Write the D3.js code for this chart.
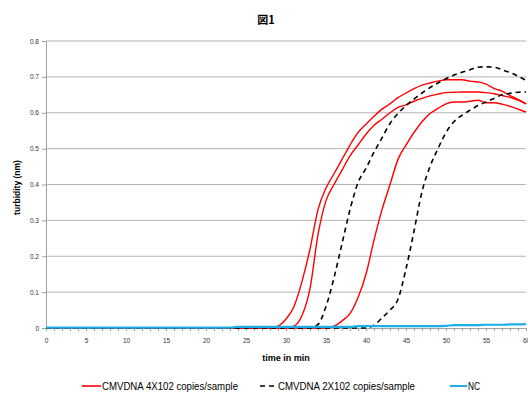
<!DOCTYPE html>
<html>
<head>
<meta charset="utf-8">
<script src="https://cdn.jsdelivr.net/npm/d3@7/dist/d3.min.js"></script>
<style>
  body { margin: 0; background: #fff; }
  svg { display: block; font-family: "Liberation Sans", Arial, sans-serif; }
</style>
</head>
<body>
<div id="chart"></div>
<script>
// time axis, one reading per minute
const minutes = d3.range(0, 61);

const xTicks = [0, 5, 10, 15, 20, 25, 30, 35, 40, 45, 50, 55, 60];
const yTicks = [0, 0.1, 0.2, 0.3, 0.4, 0.5, 0.6, 0.7, 0.8];

// CMV DNA 4X102 copies/sample (three replicates)
const red1 = [0,0,0,0,0,0,0,0,0,0, 0,0,0,0,0,0,0,0,0,0, 0,0,0,0,0,0,0,0,0,0.005,
  0.025,0.06,0.13,0.22,0.33,0.39,0.43,0.47,0.51,0.545,
  0.568,0.59,0.61,0.625,0.642,0.655,0.667,0.677,0.683,0.688,
  0.692,0.692,0.692,0.688,0.686,0.68,0.668,0.66,0.648,0.637,0.625];
const red2 = [0,0,0,0,0,0,0,0,0,0, 0,0,0,0,0,0,0,0,0,0, 0,0,0,0,0,0,0,0,0,0,
  0,0.005,0.035,0.11,0.26,0.355,0.40,0.44,0.48,0.51,
  0.54,0.565,0.582,0.60,0.615,0.622,0.632,0.64,0.647,0.652,
  0.656,0.657,0.658,0.658,0.658,0.656,0.653,0.648,0.643,0.635,0.625];
const red3 = [0,0,0,0,0,0,0,0,0,0, 0,0,0,0,0,0,0,0,0,0, 0,0,0,0,0,0,0,0,0,0,
  0,0,0,0,0,0,0.005,0.02,0.04,0.085,
  0.15,0.245,0.33,0.40,0.47,0.51,0.545,0.575,0.598,0.612,
  0.625,0.63,0.63,0.632,0.635,0.628,0.628,0.624,0.618,0.61,0.602];

// CMV DNA 2X102 copies/sample (two replicates)
const black1 = [0,0,0,0,0,0,0,0,0,0, 0,0,0,0,0,0,0,0,0,0, 0,0,0,0,0,0,0,0,0,0,
  0,0,0,0,0.01,0.06,0.14,0.235,0.33,0.405,
  0.445,0.49,0.53,0.57,0.598,0.62,0.638,0.655,0.67,0.683,
  0.695,0.705,0.713,0.72,0.727,0.728,0.727,0.72,0.712,0.702,0.69];
const black2 = [0,0,0,0,0,0,0,0,0,0, 0,0,0,0,0,0,0,0,0,0, 0,0,0,0,0,0,0,0,0,0,
  0,0,0,0,0,0,0,0,0,0,
  0,0.008,0.028,0.05,0.08,0.165,0.27,0.38,0.45,0.50,
  0.545,0.575,0.593,0.607,0.62,0.63,0.64,0.65,0.654,0.657,0.658];

// negative control
const nc = [0.001,0.001,0.001,0.001,0.001,0.001,0.001,0.001,0.001,0.001,
  0.001,0.001,0.001,0.001,0.001,0.001,0.001,0.001,0.001,0.001,
  0.001,0.001,0.001,0.001,0.003,0.003,0.003,0.003,0.003,0.003,
  0.003,0.003,0.003,0.003,0.003,0.003,0.003,0.003,0.003,0.005,
  0.005,0.005,0.005,0.005,0.005,0.005,0.005,0.005,0.005,0.005,
  0.006,0.008,0.008,0.008,0.008,0.009,0.009,0.009,0.010,0.010,0.011];

const seriesNames = ['CMVDNA 4X102 copies/sample', 'CMVDNA 2X102 copies/sample', 'NC'];

class LineChart {
  constructor(_config) {
    this.config = {
      parentElement: _config.parentElement,
      containerWidth: 528,
      containerHeight: 396,
      margin: {top: 41, right: 2, bottom: 68, left: 46}
    };
    this.init();
  }

  init() {
    let vis = this;

    vis.width = vis.config.containerWidth - vis.config.margin.left - vis.config.margin.right;
    vis.height = vis.config.containerHeight - vis.config.margin.top - vis.config.margin.bottom;

    vis.series = [
      {values: red1, color: '#ff0000', dash: null, width: 1.4},
      {values: red2, color: '#ff0000', dash: null, width: 1.4},
      {values: red3, color: '#ff0000', dash: null, width: 1.4},
      {values: black1, color: '#000000', dash: '5,4', width: 1.6},
      {values: black2, color: '#000000', dash: '5,4', width: 1.6},
      {values: nc, color: '#1aaee8', dash: null, width: 2.2}
    ];

    vis.xScale = d3.scaleLinear().domain([0, 60]).range([0, vis.width]);
    vis.yScale = d3.scaleLinear().domain([0, 0.8]).range([vis.height, 0]);

    vis.svg = d3.select(vis.config.parentElement).append('svg')
      .attr('width', vis.config.containerWidth)
      .attr('height', vis.config.containerHeight);

    vis.chartArea = vis.svg.append('g')
      .attr('transform', `translate(${vis.config.margin.left},${vis.config.margin.top})`);

    // gridlines
    vis.chartArea.append('g')
      .selectAll('line')
      .data(yTicks.slice(1))
      .join('line')
      .attr('x1', 0).attr('x2', vis.width)
      .attr('y1', d => vis.yScale(d)).attr('y2', d => vis.yScale(d))
      .attr('stroke', '#b4b4b4').attr('stroke-width', 1);

    // y axis
    vis.yAxis = d3.axisLeft(vis.yScale).tickValues(yTicks).tickSize(4).tickPadding(3)
      .tickFormat(d => d === 0 ? '0' : d3.format('.1f')(d));
    vis.chartArea.append('g').attr('class', 'y-axis').call(vis.yAxis);

    // x axis, minor ticks each minute
    vis.chartArea.append('g')
      .attr('transform', `translate(0,${vis.height})`)
      .call(d3.axisBottom(vis.xScale).tickValues(minutes).tickSize(3).tickFormat(''));
    vis.xAxis = d3.axisBottom(vis.xScale).tickValues(xTicks).tickSize(3).tickPadding(7);
    vis.chartArea.append('g').attr('class', 'x-axis')
      .attr('transform', `translate(0,${vis.height})`)
      .call(vis.xAxis);

    vis.svg.selectAll('.domain, .tick line').attr('stroke', '#a0a0a0');
    vis.svg.selectAll('.tick text')
      .attr('fill', '#333').style('font-size', '6.5px');

    // titles
    vis.svg.append('text')
      .attr('x', 266).attr('y', 24)
      .attr('text-anchor', 'middle')
      .style('font-family', '"Noto Sans CJK JP", sans-serif')
      .style('font-size', '11px').style('font-weight', 'bold')
      .text('図1');

    vis.svg.append('text')
      .attr('x', vis.config.margin.left + vis.width / 2)
      .attr('y', 361)
      .attr('text-anchor', 'middle')
      .style('font-size', '9px').style('font-weight', 'bold')
      .text('time in min');

    vis.svg.append('text')
      .attr('transform', `translate(20,${vis.config.margin.top + vis.height / 2 + 3}) rotate(-90)`)
      .attr('text-anchor', 'middle')
      .style('font-size', '8.5px').style('font-weight', 'bold')
      .text('turbidity (nm)');

    vis.line = d3.line()
      .x((d, i) => vis.xScale(minutes[i]))
      .y(d => vis.yScale(d))
      .curve(d3.curveMonotoneX);

    vis.render();
  }

  render() {
    let vis = this;

    vis.chartArea.append('g')
      .selectAll('path')
      .data(vis.series)
      .join('path')
      .attr('d', d => vis.line(d.values))
      .attr('fill', 'none')
      .attr('stroke', d => d.color)
      .attr('stroke-width', d => d.width)
      .attr('stroke-dasharray', d => d.dash);

    // legend
    const legendItems = [
      {name: seriesNames[0], color: '#ff0000', dash: null, x: 82, w: 19, tl: 136},
      {name: seriesNames[1], color: '#000000', dash: '5,4', x: 260, w: 17, tl: 137},
      {name: seriesNames[2], color: '#1aaee8', dash: null, x: 450, w: 17, tl: 12}
    ];
    const legend = vis.svg.append('g').attr('transform', 'translate(0,386)');
    const item = legend.selectAll('g').data(legendItems).join('g')
      .attr('transform', d => `translate(${d.x},0)`);
    item.append('line')
      .attr('x1', 0).attr('x2', d => d.w)
      .attr('y1', 0).attr('y2', 0)
      .attr('stroke', d => d.color)
      .attr('stroke-width', d => d.color === '#1aaee8' ? 2 : 1.6)
      .attr('stroke-dasharray', d => d.dash);
    item.append('text')
      .attr('x', d => d.w + 1).attr('y', 3.5)
      .style('font-size', '10px')
      .attr('textLength', d => d.tl)
      .attr('lengthAdjust', 'spacingAndGlyphs')
      .text(d => d.name);
  }
}

new LineChart({parentElement: '#chart'});
</script>
</body>
</html>
